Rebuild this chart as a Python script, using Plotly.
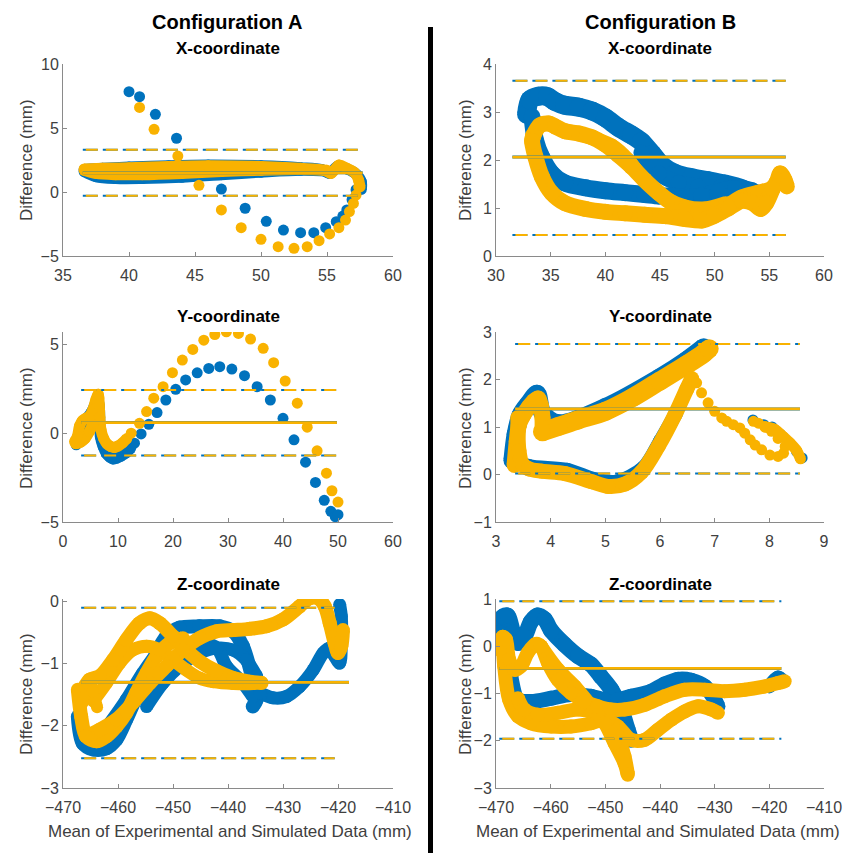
import plotly.graph_objects as go

BLUE = "#0072BD"
ORANGE = "#F9B200"

# ---------------- Configuration A, X-coordinate ----------------
AX_B_DOT_X = [40.0, 40.8, 42.0, 43.6, 47.0, 48.8, 50.4, 51.7, 53.0, 54.0, 54.9, 55.7, 56.2, 56.5, 56.9, 57.2, 57.5]
AX_B_DOT_Y = [7.84, 7.45, 6.07, 4.2, 0.23, -1.27, -2.29, -2.97, -3.18, -3.18, -2.79, -2.32, -1.88, -1.4, -0.6, 0.18, 0.8]
AX_O_DOT_X = [40.8, 41.9, 43.7, 45.3, 47.0, 48.5, 50.0, 51.3, 52.5, 53.5, 54.4, 55.2, 55.9, 56.4, 56.7, 57.0, 57.2, 57.4]
AX_O_DOT_Y = [6.61, 4.9, 2.81, 0.52, -1.4, -2.79, -3.7, -4.27, -4.4, -4.27, -3.8, -3.28, -2.79, -2.19, -1.53, -0.89, -0.24, 0.4]
AX_B_UP_X = [36.6, 38, 40, 43, 46, 50, 53, 54.6, 55.2, 55.8, 56.5, 57.2, 57.6, 57.6]
AX_B_UP_Y = [1.75, 1.85, 1.95, 2.05, 2.1, 2.05, 1.9, 1.75, 1.45, 2.0, 1.8, 1.4, 0.8, 0.2]
AX_B_LO_X = [36.6, 37.5, 39, 41, 44, 47, 50, 53, 55]
AX_B_LO_Y = [1.6, 1.2, 1.05, 1.05, 1.15, 1.35, 1.55, 1.7, 1.65]
AX_O_UP_X = [36.6, 38, 40, 43, 46, 50, 53, 54.8, 55.3, 55.9, 56.5, 57.1, 57.4, 57.5]
AX_O_UP_Y = [1.8, 1.85, 1.9, 2.0, 2.05, 2.0, 1.85, 1.7, 1.45, 2.1, 1.85, 1.5, 0.9, 0.4]
AX_O_LO_X = [36.6, 37.5, 39, 41, 44, 47, 50, 53, 55]
AX_O_LO_Y = [1.7, 1.45, 1.35, 1.35, 1.45, 1.6, 1.7, 1.75, 1.7]
AX_LIMITS = [3.3, 1.5, -0.3]
AX_SPAN = [36.5, 57.7]

# ---------------- Configuration B, X-coordinate ----------------
BX_B_UP_X = [32.8, 33.1, 33.9, 34.7, 35.4, 36.3, 37.6, 38.8, 40.0, 41.2, 42.4, 43.3, 44.3, 45.2, 46.4, 47.9, 49.4, 50.9, 52.5, 53.7, 54.3]
BX_B_UP_Y = [2.95, 3.25, 3.33, 3.32, 3.22, 3.14, 3.1, 3.02, 2.88, 2.68, 2.52, 2.38, 2.12, 1.88, 1.72, 1.63, 1.57, 1.5, 1.4, 1.27, 1.18]
BX_B_IN_X = [43.3, 44.9, 46.7, 48.5, 50.5, 52.0]
BX_B_IN_Y = [2.15, 1.72, 1.52, 1.45, 1.42, 1.4]
BX_B_LO_X = [33.3, 33.6, 34.2, 35.1, 36.3, 38.2, 40.0, 41.8, 43.6, 44.9, 46.1, 47.3, 48.8, 50.3, 51.9, 53.4, 54.3]
BX_B_LO_Y = [2.9, 2.42, 2.05, 1.72, 1.52, 1.42, 1.36, 1.32, 1.28, 1.25, 1.25, 1.22, 1.25, 1.34, 1.4, 1.36, 1.22]
BX_O_UP_X = [33.4, 34.0, 34.8, 35.4, 36.3, 37.6, 38.8, 40.0, 41.2, 42.4, 43.6, 44.9, 46.1, 47.6, 48.8, 50.0, 51.3, 52.5, 54.0, 55.2, 55.7, 56.0, 56.4, 56.6]
BX_O_UP_Y = [2.5, 2.72, 2.76, 2.7, 2.6, 2.55, 2.47, 2.32, 2.1, 1.86, 1.58, 1.31, 1.1, 0.92, 0.85, 0.9, 1.06, 1.22, 1.32, 1.4, 1.55, 1.72, 1.58, 1.45]
BX_O_LO_X = [33.4, 33.3, 33.6, 34.2, 35.1, 36.3, 38.2, 40.0, 41.8, 43.6, 45.5, 47.3, 48.8, 50.0, 51.3, 52.5, 53.5, 54.2, 54.7, 55.3]
BX_O_LO_Y = [2.5, 2.4, 2.07, 1.65, 1.31, 1.1, 0.98, 0.92, 0.89, 0.86, 0.83, 0.77, 0.74, 0.84, 1.0, 1.15, 1.1, 0.98, 1.1, 1.4]
BX_O_DI_X = [38.2, 40.6, 42.1, 43.3, 44.6, 45.8, 47.3, 49.1, 51.0]
BX_O_DI_Y = [2.5, 2.3, 2.0, 1.65, 1.38, 1.17, 1.03, 0.99, 1.1]
BX_LIMITS = [3.65, 2.06, 0.44]
BX_SPAN = [31.5, 56.5]

# ---------------- Configuration A, Y-coordinate ----------------
AY_B_DOT_X = [13.0, 14.2, 15.6, 17.1, 18.7, 20.5, 22.3, 24.4, 26.5, 28.5, 30.7, 33.0, 35.3, 37.7, 40.0, 42.0, 44.1, 45.9, 47.5, 48.7, 49.5, 50.0]
AY_B_DOT_Y = [-0.56, -0.04, 0.5, 1.16, 1.87, 2.47, 3.0, 3.4, 3.65, 3.75, 3.61, 3.24, 2.62, 1.87, 0.84, -0.37, -1.63, -2.77, -3.78, -4.4, -4.7, -4.59]
AY_B_DEN_X = [2.4, 3.0, 3.6, 4.5, 5.2, 5.8, 6.3, 6.6, 6.7, 6.8, 7.3, 7.9, 8.5, 9.1, 9.8, 10.5, 11.5, 12.3]
AY_B_DEN_Y = [-0.65, -0.1, 0.5, 0.9, 1.2, 1.6, 1.9, 1.5, 0.6, -0.2, -0.75, -1.15, -1.35, -1.45, -1.4, -1.3, -1.1, -0.85]
AY_O_DOT_X = [12.4, 13.9, 15.2, 16.5, 18.2, 19.9, 21.7, 23.6, 25.6, 27.6, 29.7, 31.9, 34.1, 36.4, 38.3, 40.4, 42.6, 44.4, 46.2, 47.9, 48.9, 50.0]
AY_O_DOT_Y = [0.0, 0.56, 1.22, 1.97, 2.62, 3.41, 4.12, 4.72, 5.24, 5.56, 5.71, 5.62, 5.3, 4.78, 3.97, 2.94, 1.69, 0.34, -0.99, -2.25, -3.24, -3.88]
AY_O_DEN_X = [2.1, 2.6, 3.0, 3.5, 4.2, 4.8, 5.4, 6.0, 6.4, 6.6, 6.7, 6.9, 7.4, 8.0, 8.7, 9.3, 10.0, 10.8, 11.6]
AY_O_DEN_Y = [-0.47, -0.2, 0.4, 0.7, 0.85, 0.95, 1.3, 1.9, 2.2, 1.6, 0.9, 0.2, -0.3, -0.6, -0.75, -0.8, -0.72, -0.55, -0.3]
AY_O_DEN2_X = [2.3, 3.2, 4.0, 4.8, 5.5, 6.2, 6.5]
AY_O_DEN2_Y = [-0.6, -0.5, -0.3, 0.1, 0.6, 1.3, 2.0]
AY_LIMITS = [2.43, 0.6, -1.25]
AY_SPAN = [3.3, 49.8]

# ---------------- Configuration B, Y-coordinate ----------------
BY_B_UP_X = [3.3, 3.36, 3.45, 3.6, 3.75, 3.85, 4.14, 5.0, 6.0, 6.5, 6.8]
BY_B_UP_Y = [0.3, 0.85, 1.25, 1.5, 1.7, 1.3, 1.08, 1.42, 2.05, 2.42, 2.68]
BY_B_LO_X = [3.36, 3.4, 3.6, 4.3, 4.8, 5.2, 5.7, 6.0, 6.3]
BY_B_LO_Y = [1.0, 0.3, 0.18, 0.1, -0.1, -0.15, 0.15, 0.7, 1.3]
BY_B_DOT_X = [7.7, 7.9, 8.05, 8.2, 8.35, 8.5, 8.6]
BY_B_DOT_Y = [1.15, 1.05, 1.0, 0.85, 0.68, 0.48, 0.35]
BY_O_HOOK_X = [3.34, 3.38, 3.42, 3.5, 3.6, 3.7, 3.77, 3.82, 3.85, 3.85]
BY_O_HOOK_Y = [0.2, 0.7, 1.05, 1.25, 1.42, 1.55, 1.6, 1.45, 1.2, 0.9]
BY_O_UP_X = [3.85, 4.14, 4.5, 5.0, 5.5, 6.0, 6.5, 6.8, 6.9]
BY_O_UP_Y = [0.9, 1.01, 1.15, 1.33, 1.62, 1.97, 2.32, 2.55, 2.65]
BY_O_LO_X = [3.4, 3.42, 3.48, 3.6, 3.84, 4.26, 4.75, 5.05, 5.36, 5.66, 5.97, 6.27, 6.49, 6.58]
BY_O_LO_Y = [1.2, 0.5, 0.22, 0.12, 0.07, 0.02, -0.15, -0.25, -0.2, 0.05, 0.6, 1.25, 1.8, 2.02]
BY_O_DOT_X = [6.67, 6.76, 6.88, 7.0, 7.13, 7.22, 7.34, 7.46, 7.55, 7.65, 7.74, 7.86, 8.01, 8.16, 8.26, 8.29, 8.16, 8.04, 7.92, 7.8, 7.71]
BY_O_DOT_Y = [1.93, 1.72, 1.51, 1.33, 1.19, 1.12, 1.05, 0.98, 0.87, 0.73, 0.62, 0.52, 0.41, 0.38, 0.45, 0.59, 0.76, 0.91, 1.01, 1.08, 1.12]
BY_O_END_X = [7.92, 8.1, 8.25, 8.38, 8.5, 8.57]
BY_O_END_Y = [1.0, 0.95, 0.8, 0.66, 0.5, 0.33]
BY_LIMITS = [2.75, 1.38, 0.02]
BY_SPAN = [3.35, 8.56]

# ---------------- Configuration A, Z-coordinate ----------------
AZ_B_LOOP_X = [-467.3, -466.4, -464.5, -462.1, -460.3, -458.5, -456.1, -453.6, -451.2, -448.8, -445.2, -441.5, -439.1, -437.3, -435.5, -434.8, -435.5]
AZ_B_LOOP_Y = [-1.85, -2.28, -2.38, -2.36, -2.22, -1.9, -1.42, -0.94, -0.56, -0.42, -0.4, -0.4, -0.48, -0.72, -1.26, -1.58, -1.69]
AZ_B_RISE_X = [-461.5, -458.5, -455.5, -452.4, -449.4]
AZ_B_RISE_Y = [-1.96, -1.58, -1.15, -0.78, -0.56]
AZ_B_MID_X = [-454.8, -451.8, -448.8, -445.2, -442.1, -439.1, -436.7, -434.8]
AZ_B_MID_Y = [-1.69, -1.31, -1.04, -0.83, -0.75, -0.78, -0.94, -1.2]
AZ_B_DESC_X = [-445.5, -442.0, -440.3, -437.3, -435.5]
AZ_B_DESC_Y = [-0.62, -0.75, -1.04, -1.31, -1.53]
AZ_B_RIGHT_X = [-434.2, -431.8, -429.4, -427.0, -424.5, -422.7, -421.5, -420.6, -419.7, -419.4, -419.4, -419.7]
AZ_B_RIGHT_Y = [-1.47, -1.55, -1.53, -1.37, -1.1, -0.83, -0.75, -0.88, -0.99, -0.67, -0.24, -0.05]
AZ_O_LOOP_X = [-467.3, -466.7, -465.8, -463.9, -462.1, -460.3, -458.5, -456.7, -454.8, -453.0, -450.6, -448.2]
AZ_O_LOOP_Y = [-1.42, -1.85, -2.17, -2.25, -2.17, -2.01, -1.79, -1.47, -1.15, -0.88, -0.67, -0.59]
AZ_O_HUMP_X = [-467.0, -465.2, -463.3, -460.9, -458.5, -456.1, -454.2, -452.4, -450.0, -447.6, -445.2, -442.1, -439.1, -436.1, -433.9]
AZ_O_HUMP_Y = [-1.53, -1.26, -1.2, -0.94, -0.62, -0.35, -0.27, -0.35, -0.56, -0.78, -0.96, -1.12, -1.23, -1.29, -1.31]
AZ_O_HUMP2_X = [-464.5, -462.1, -459.7, -457.3, -454.8, -452.4, -450.0, -447.6, -445.2, -442.7, -439.0, -435.5, -433.9]
AZ_O_HUMP2_Y = [-1.6, -1.31, -0.99, -0.78, -0.72, -0.78, -0.94, -1.1, -1.23, -1.29, -1.32, -1.32, -1.3]
AZ_O_RISE_X = [-465.8, -463.3, -460.3, -457.3, -454.2, -451.2, -448.2, -445.2, -442.1, -439.1, -436.1, -433.0, -430.0, -427.0, -425.2, -423.6, -422.4, -421.5, -420.6, -420.0, -419.4, -419.1]
AZ_O_RISE_Y = [-2.17, -2.06, -1.9, -1.63, -1.31, -1.04, -0.78, -0.59, -0.48, -0.46, -0.44, -0.4, -0.29, -0.08, 0.05, 0.05, -0.08, -0.35, -0.67, -0.83, -0.72, -0.46]
AZ_O_LEFT_X = [-467.2, -466.6, -465.9, -465.2, -464.6, -463.8]
AZ_O_LEFT_Y = [-1.45, -1.65, -1.5, -1.26, -1.45, -1.7]
AZ_LIMITS = [-0.1, -1.3, -2.52]
AZ_SPAN = [-466.7, -420.6]
AZ_MEAN_SPAN = [-466.7, -418.0]

# ---------------- Configuration B, Z-coordinate ----------------
BZ_B_UP_X = [-469.4, -468.8, -467.9, -466.9, -466.0, -464.8, -463.6, -462.4, -461.1, -459.9, -457.5, -455.0, -452.6, -450.8, -448.9, -447.1, -445.9, -445.3]
BZ_B_UP_Y = [0.28, 0.62, 0.65, 0.3, 0.07, 0.2, 0.52, 0.65, 0.57, 0.33, 0.04, -0.21, -0.39, -0.64, -0.92, -1.34, -1.77, -1.98]
BZ_B_LO_X = [-468.5, -467.3, -466.0, -463.6, -459.9, -456.3, -452.6, -450.1, -447.7, -445.3, -441.6, -439.2, -436.7, -434.3, -431.8, -430.0, -429.4]
BZ_B_LO_Y = [0.2, -0.64, -1.13, -1.17, -1.1, -1.02, -1.06, -1.13, -1.13, -1.06, -0.95, -0.8, -0.7, -0.72, -0.85, -1.13, -1.27]
BZ_B_END_X = [-420.0, -418.4, -417.5]
BZ_B_END_Y = [-0.85, -0.66, -0.74]
BZ_O_TOP_X = [-469.4, -468.8, -468.2, -467.6, -466.6, -465.4, -464.2, -462.7, -461.8, -460.5, -458.7, -456.3, -453.8, -451.4, -449.0, -446.5, -442.8, -439.2, -435.5, -431.8, -428.2, -424.5, -420.8, -418.4, -417.2]
BZ_O_TOP_Y = [-0.07, 0.2, 0.15, -0.28, -0.5, -0.42, -0.14, 0.05, 0.0, -0.35, -0.71, -0.99, -1.17, -1.27, -1.34, -1.34, -1.24, -1.06, -0.92, -0.92, -0.95, -0.92, -0.85, -0.78, -0.74]
BZ_O_LOW_X = [-468.8, -468.5, -467.6, -466.0, -463.6, -459.9, -456.3, -452.6, -450.1, -447.7, -445.3, -442.8, -440.4, -437.9, -435.5, -433.0, -430.6, -429.4]
BZ_O_LOW_Y = [0.14, -0.42, -1.13, -1.48, -1.63, -1.7, -1.7, -1.63, -1.55, -1.7, -1.98, -1.98, -1.77, -1.55, -1.38, -1.27, -1.34, -1.41]
BZ_O_MID_X = [-466.0, -464.8, -462.4, -458.7, -455.0, -451.9, -449.5, -447.7, -446.5, -445.9]
BZ_O_MID_Y = [-1.1, -1.34, -1.45, -1.41, -1.34, -1.41, -1.55, -1.91, -2.33, -2.69]
BZ_O_DIAG_X = [-461.8, -458.7, -455.6, -452.6, -450.1, -448.3, -446.5, -445.9]
BZ_O_DIAG_Y = [0.0, -0.49, -0.85, -1.27, -1.63, -2.05, -2.47, -2.72]
BZ_LIMITS = [0.95, -0.47, -1.96]
BZ_SPAN = [-469.4, -417.8]

fig = go.Figure()

AXES = {
    "AX": ("x", "y"), "BX": ("x2", "y2"),
    "AY": ("x3", "y3"), "BY": ("x4", "y4"),
    "AZ": ("x5", "y5"), "BZ": ("x6", "y6"),
}


def band(p, xs, ys, color, w):
    xa, ya = AXES[p]
    fig.add_trace(go.Scatter(
        x=xs, y=ys, mode="lines+markers", xaxis=xa, yaxis=ya,
        line=dict(color=color, width=w, shape="spline", smoothing=0.9),
        marker=dict(color=color, size=w, line=dict(width=0)),
        showlegend=False, hoverinfo="skip"))


def dots(p, xs, ys, color, size=11):
    xa, ya = AXES[p]
    fig.add_trace(go.Scatter(
        x=xs, y=ys, mode="markers", xaxis=xa, yaxis=ya,
        marker=dict(color=color, size=size, line=dict(width=0)),
        showlegend=False, hoverinfo="skip"))


def limit_lines(p, span, limits, mean_span=None):
    xa, ya = AXES[p]
    up, mean, lo = limits
    for lv in (up, lo):
        fig.add_trace(go.Scatter(x=span, y=[lv, lv], mode="lines", xaxis=xa, yaxis=ya,
                                 line=dict(color=BLUE, width=2, dash="15px,5px"),
                                 showlegend=False, hoverinfo="skip"))
        fig.add_trace(go.Scatter(x=span, y=[lv, lv], mode="lines", xaxis=xa, yaxis=ya,
                                 line=dict(color=ORANGE, width=2, dash="0px,3px,12px,5px"),
                                 showlegend=False, hoverinfo="skip"))
    ms = mean_span if mean_span else span
    fig.add_trace(go.Scatter(x=ms, y=[mean, mean], mode="lines", xaxis=xa, yaxis=ya,
                             line=dict(color=BLUE, width=3), showlegend=False, hoverinfo="skip"))
    fig.add_trace(go.Scatter(x=ms, y=[mean, mean], mode="lines", xaxis=xa, yaxis=ya,
                             line=dict(color=ORANGE, width=2.8), showlegend=False, hoverinfo="skip"))


# A-X
band("AX", AX_B_LO_X, AX_B_LO_Y, BLUE, 11)
band("AX", AX_B_UP_X, AX_B_UP_Y, BLUE, 11)
dots("AX", AX_B_DOT_X, AX_B_DOT_Y, BLUE)
band("AX", AX_O_LO_X, AX_O_LO_Y, ORANGE, 11)
band("AX", AX_O_UP_X, AX_O_UP_Y, ORANGE, 11)
dots("AX", AX_O_DOT_X, AX_O_DOT_Y, ORANGE)
limit_lines("AX", AX_SPAN, AX_LIMITS)

# B-X
band("BX", BX_B_UP_X, BX_B_UP_Y, BLUE, 19)
band("BX", BX_B_IN_X, BX_B_IN_Y, BLUE, 16)
band("BX", BX_B_LO_X, BX_B_LO_Y, BLUE, 17)
band("BX", BX_O_UP_X, BX_O_UP_Y, ORANGE, 16)
band("BX", BX_O_DI_X, BX_O_DI_Y, ORANGE, 14)
band("BX", BX_O_LO_X, BX_O_LO_Y, ORANGE, 16)
limit_lines("BX", BX_SPAN, BX_LIMITS)

# A-Y
band("AY", AY_B_DEN_X, AY_B_DEN_Y, BLUE, 11)
dots("AY", AY_B_DOT_X, AY_B_DOT_Y, BLUE)
band("AY", AY_O_DEN2_X, AY_O_DEN2_Y, ORANGE, 11)
band("AY", AY_O_DEN_X, AY_O_DEN_Y, ORANGE, 11)
dots("AY", AY_O_DOT_X, AY_O_DOT_Y, ORANGE)
limit_lines("AY", AY_SPAN, AY_LIMITS)

# B-Y
band("BY", BY_B_UP_X, BY_B_UP_Y, BLUE, 18)
band("BY", BY_B_LO_X, BY_B_LO_Y, BLUE, 14)
dots("BY", BY_B_DOT_X, BY_B_DOT_Y, BLUE)
band("BY", BY_O_HOOK_X, BY_O_HOOK_Y, ORANGE, 16)
band("BY", BY_O_UP_X, BY_O_UP_Y, ORANGE, 19)
band("BY", BY_O_LO_X, BY_O_LO_Y, ORANGE, 15)
dots("BY", BY_O_DOT_X, BY_O_DOT_Y, ORANGE)
band("BY", BY_O_END_X, BY_O_END_Y, ORANGE, 11)
limit_lines("BY", BY_SPAN, BY_LIMITS)

# A-Z
band("AZ", AZ_B_LOOP_X, AZ_B_LOOP_Y, BLUE, 14)
band("AZ", AZ_B_RISE_X, AZ_B_RISE_Y, BLUE, 13)
band("AZ", AZ_B_MID_X, AZ_B_MID_Y, BLUE, 13)
band("AZ", AZ_B_DESC_X, AZ_B_DESC_Y, BLUE, 13)
band("AZ", AZ_B_RIGHT_X, AZ_B_RIGHT_Y, BLUE, 13)
band("AZ", AZ_O_LOOP_X, AZ_O_LOOP_Y, ORANGE, 14)
band("AZ", AZ_O_HUMP2_X, AZ_O_HUMP2_Y, ORANGE, 13)
band("AZ", AZ_O_HUMP_X, AZ_O_HUMP_Y, ORANGE, 14)
band("AZ", AZ_O_RISE_X, AZ_O_RISE_Y, ORANGE, 14)
band("AZ", AZ_O_LEFT_X, AZ_O_LEFT_Y, ORANGE, 12)
limit_lines("AZ", AZ_SPAN, AZ_LIMITS, AZ_MEAN_SPAN)

# B-Z
band("BZ", BZ_B_UP_X, BZ_B_UP_Y, BLUE, 16)
band("BZ", BZ_B_LO_X, BZ_B_LO_Y, BLUE, 15)
band("BZ", BZ_B_END_X, BZ_B_END_Y, BLUE, 14)
band("BZ", BZ_O_LOW_X, BZ_O_LOW_Y, ORANGE, 14)
band("BZ", BZ_O_MID_X, BZ_O_MID_Y, ORANGE, 14)
band("BZ", BZ_O_DIAG_X, BZ_O_DIAG_Y, ORANGE, 14)
band("BZ", BZ_O_TOP_X, BZ_O_TOP_Y, ORANGE, 14)
limit_lines("BZ", BZ_SPAN, BZ_LIMITS)

W, H = 851, 853
COL_A = [63 / W, 393 / W]
COL_B = [496 / W, 824 / W]
ROW1 = [1 - 256 / H, 1 - 64 / H]
ROW2 = [1 - 522 / H, 1 - 332 / H]
ROW3 = [1 - 788 / H, 1 - 599 / H]

FONT = "Liberation Sans, Arial, sans-serif"
TICKFONT = dict(family=FONT, size=16, color="#404040")
AXCOL = "#8a8a8a"


def xax(dom, rng, dtick, anchor):
    return dict(domain=dom, range=rng, dtick=dtick, tick0=rng[0], anchor=anchor,
                showline=True, linecolor=AXCOL, linewidth=1, ticks="inside", ticklen=4,
                tickcolor=AXCOL, showgrid=False, zeroline=False, tickfont=TICKFONT,
                automargin=False, ticklabelstandoff=5, fixedrange=True)


def yax(dom, rng, tickvals, anchor):
    return dict(domain=dom, range=rng, tickvals=tickvals, anchor=anchor,
                showline=True, linecolor=AXCOL, linewidth=1, ticks="inside", ticklen=4,
                tickcolor=AXCOL, showgrid=False, zeroline=False, tickfont=TICKFONT,
                automargin=False, fixedrange=True)


fig.update_layout(
    width=W, height=H, margin=dict(l=0, r=0, t=0, b=0, autoexpand=False),
    paper_bgcolor="white", plot_bgcolor="white",
    font=dict(family=FONT),
    xaxis=xax(COL_A, [35, 60], 5, "y"),
    yaxis=yax(ROW1, [-5, 10], [-5, 0, 5, 10], "x"),
    xaxis2=xax(COL_B, [30, 60], 5, "y2"),
    yaxis2=yax(ROW1, [0, 4], [0, 1, 2, 3, 4], "x2"),
    xaxis3=xax(COL_A, [0, 60], 10, "y3"),
    yaxis3=yax(ROW2, [-5, 5.7], [-5, 0, 5], "x3"),
    xaxis4=xax(COL_B, [3, 9], 1, "y4"),
    yaxis4=yax(ROW2, [-1, 3], [-1, 0, 1, 2, 3], "x4"),
    xaxis5=xax(COL_A, [-470, -410], 10, "y5"),
    yaxis5=yax(ROW3, [-3, 0.04], [-3, -2, -1, 0], "x5"),
    xaxis6=xax(COL_B, [-470, -410], 10, "y6"),
    yaxis6=yax(ROW3, [-3, 1], [-3, -2, -1, 0, 1], "x6"),
)

ann = []


def text(x, y, s, size, bold=False, color="black", angle=0):
    ann.append(dict(x=x / W, y=1 - y / H, xref="paper", yref="paper", text=("<b>%s</b>" % s) if bold else s,
                    showarrow=False, xanchor="center", yanchor="middle", textangle=angle,
                    font=dict(size=size, color=color, family=FONT)))


text(227, 22, "Configuration A", 20, True)
text(660, 22, "Configuration B", 20, True)
for yy, lab in [(49, "X-coordinate"), (317, "Y-coordinate"), (584, "Z-coordinate")]:
    text(228, yy, lab, 17, True)
    text(660, yy, lab, 17, True)
for yy in (160, 428, 694):
    text(26, yy, "Difference (mm)", 17, color="#404040", angle=-90)
    text(465, yy, "Difference (mm)", 17, color="#404040", angle=-90)
text(230, 831, "Mean of Experimental and Simulated Data (mm)", 17, color="#404040")
text(658, 831, "Mean of Experimental and Simulated Data (mm)", 17, color="#404040")

fig.update_layout(annotations=ann)
fig.add_shape(type="line", xref="paper", yref="paper", x0=430.5 / W, x1=430.5 / W,
              y0=0, y1=1 - 27 / H, line=dict(color="black", width=5))

fig.write_html("out.html")
